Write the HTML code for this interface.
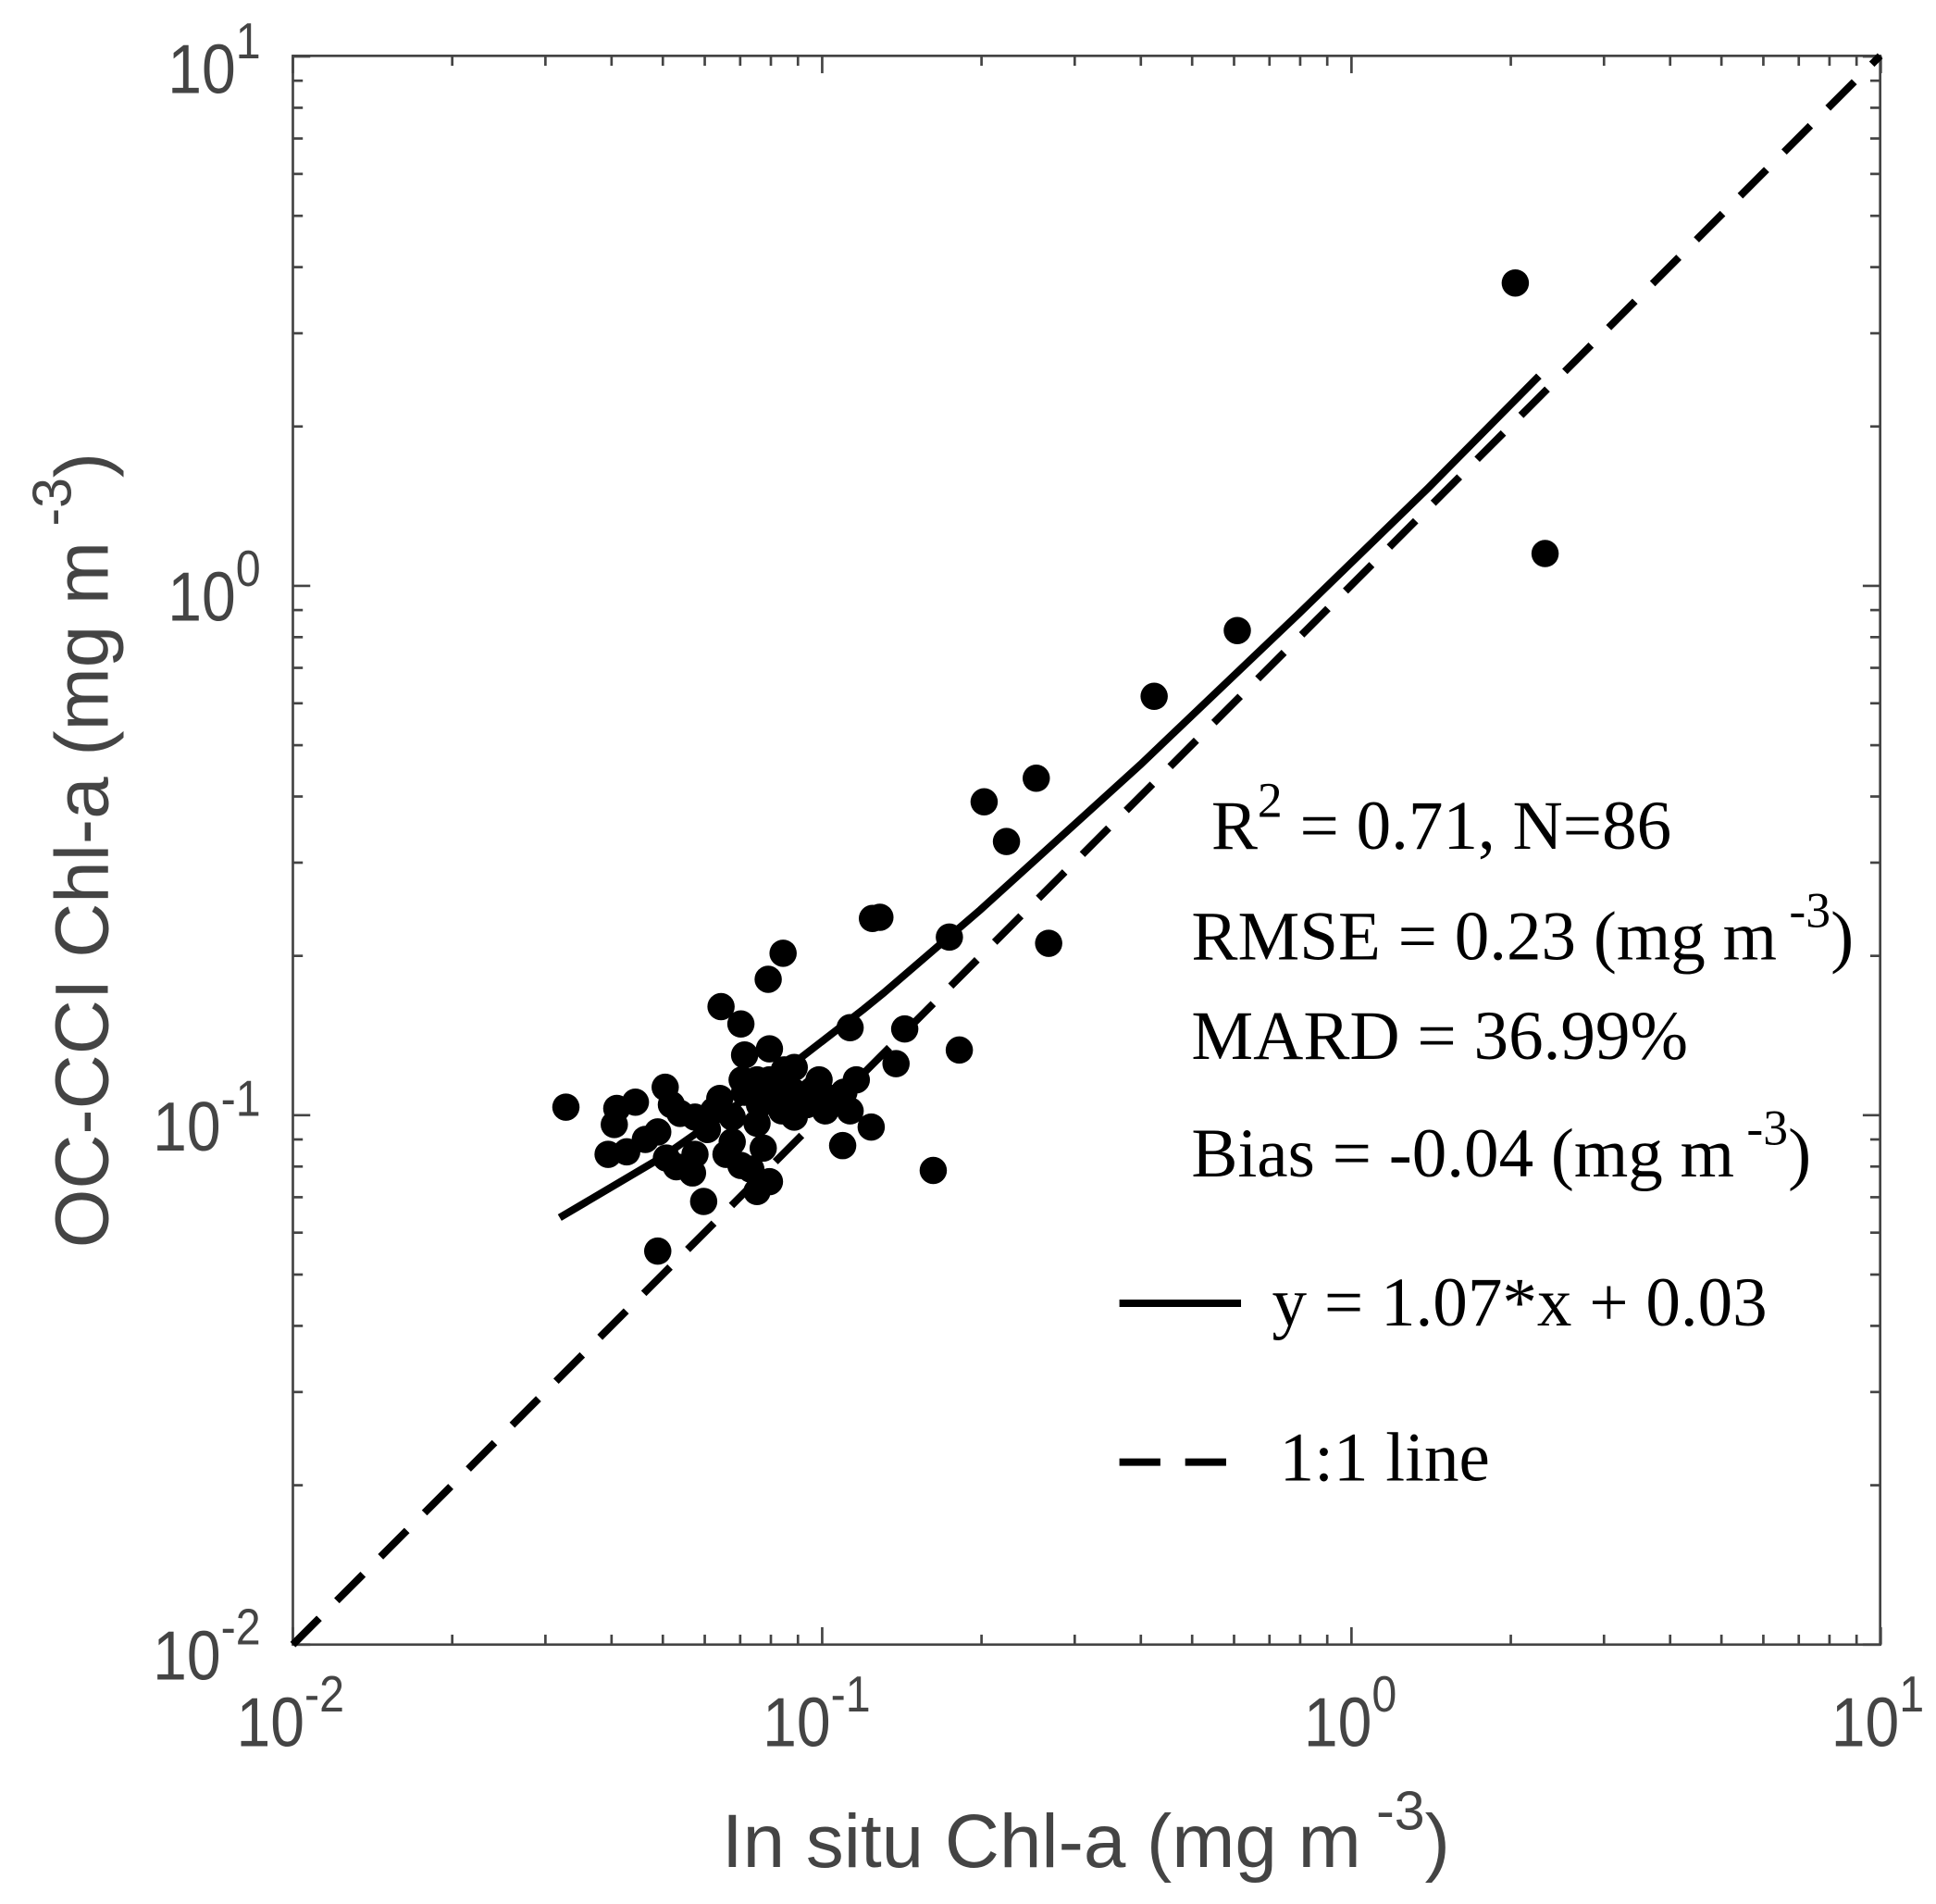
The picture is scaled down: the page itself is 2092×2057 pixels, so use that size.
<!DOCTYPE html>
<html><head><meta charset="utf-8"><style>
html,body{margin:0;padding:0;background:#fff;}
svg{display:block;}
</style></head><body>
<svg id="s" width="2092" height="2057" viewBox="0 0 1560 1534" preserveAspectRatio="none" xmlns="http://www.w3.org/2000/svg">
<rect x="0" y="0" width="1560" height="1534" fill="#fff"/>
<g id="ticks" stroke="#444" stroke-width="2"></g>
<rect x="236" y="45" width="1279" height="1280" fill="none" stroke="#444" stroke-width="2"/>
<line x1="236" y1="1325" x2="1515" y2="45" stroke="#000" stroke-width="6" stroke-dasharray="30,20"/>
<polyline fill="none" stroke="#000" stroke-width="6" points="451,981 534,932 621,871 696,813 712,800 790,733 919,616 1047,494 1151,393 1240,303"/>
<g id="pts" fill="#000"></g>
<g font-family="Liberation Sans, sans-serif" fill="#444" font-size="56">
<g transform="translate(210,0) scale(0.88,1)">
<text x="0" y="75" text-anchor="end">10<tspan dy="-28" font-size="41">1</tspan></text>
<text x="0" y="500" text-anchor="end">10<tspan dy="-28" font-size="41">0</tspan></text>
<text x="0" y="927" text-anchor="end">10<tspan dy="-28" font-size="41">-1</tspan></text>
<text x="0" y="1353" text-anchor="end">10<tspan dy="-28" font-size="41">-2</tspan></text>
</g>
<g transform="translate(234,1407) scale(0.88,1)"><text x="0" y="0" text-anchor="middle">10<tspan dy="-28" font-size="41">-2</tspan></text></g>
<g transform="translate(658,1407) scale(0.88,1)"><text x="0" y="0" text-anchor="middle">10<tspan dy="-28" font-size="41">-1</tspan></text></g>
<g transform="translate(1088,1407) scale(0.88,1)"><text x="0" y="0" text-anchor="middle">10<tspan dy="-28" font-size="41">0</tspan></text></g>
<g transform="translate(1513,1407) scale(0.88,1)"><text x="0" y="0" text-anchor="middle">10<tspan dy="-28" font-size="41">1</tspan></text></g>
<text x="875" y="1504" text-anchor="middle" font-size="61">In situ Chl-a (mg m<tspan dy="-30" font-size="44"> -3</tspan><tspan dy="30">)</tspan></text>
<text transform="translate(87,685) rotate(-90)" text-anchor="middle" font-size="61">OC-CCI Chl-a (mg m<tspan dy="-30" font-size="44"> -3</tspan><tspan dy="30">)</tspan></text>
</g>
<g font-family="Liberation Serif, serif" fill="#000" font-size="56">
<text x="976" y="684">R<tspan dy="-26" font-size="40">2</tspan><tspan dy="26"> = 0.71, N=86</tspan></text>
<text x="960" y="773">RMSE = 0.23 (mg m<tspan dy="-26" font-size="40"> -3</tspan><tspan dy="26">)</tspan></text>
<text x="960" y="853">MARD = 36.99%</text>
<text x="960" y="948">Bias = -0.04 (mg m<tspan dy="-26" font-size="40"> -3</tspan><tspan dy="26">)</tspan></text>
<text x="1025" y="1068">y = 1.07*x + 0.03</text>
<text x="1031" y="1193">1:1 line</text>
</g>
<line x1="902" y1="1050" x2="1000" y2="1050" stroke="#000" stroke-width="6"/>
<line x1="902" y1="1178" x2="990" y2="1178" stroke="#000" stroke-width="6" stroke-dasharray="33,20"/>
</svg>
<script>
(function(){
var NS="http://www.w3.org/2000/svg";
var t=document.getElementById('ticks');
function ln(a,b,c,d){var l=document.createElementNS(NS,'line');l.setAttribute('x1',a);l.setAttribute('y1',b);l.setAttribute('x2',c);l.setAttribute('y2',d);t.appendChild(l);}
var L=236,R=1515,T=45,B=1325,D=426.5;
for(var dec=0;dec<3;dec++){for(var k=1;k<=10;k++){
 if(k==1&&dec>0)continue;
 var off=Math.log10(k)*D; var len=(k==1||k==10)?14:8;
 var x=L+dec*D+off, y=B-dec*D-off;
 ln(x,B,x,B-len); ln(x,T,x,T+len);
 ln(L,y,L+len,y); ln(R,y,R-len,y);
}}
var p=[[1221,228],[1245,446],[997,508],[930,561],[835,627],[793,646],[811,678],[845,760],[765,755],[703,740],[709,739],[773,846],[752,943],[631,768],[619,789],[581,811],[597,825],[685,828],[729,829],[722,857],[456,892],[497,893],[512,888],[536,876],[495,906],[541,890],[548,897],[520,918],[530,912],[490,930],[505,928],[537,933],[558,945],[530,1008],[567,968],[597,939],[610,960],[620,952],[702,908],[679,923],[580,885],[600,880],[620,870],[640,860],[660,870],[680,880],[560,900],[570,910],[590,900],[610,905],[630,895],[650,890],[670,885],[600,850],[610,870],[620,845],[625,880],[640,880],[665,895],[590,920],[640,900],[615,925],[655,878],[575,895],[585,930],[605,942],[560,930],[545,940],[690,870],[685,895],[598,870],[632,862],[612,890]];
var g=document.getElementById('pts');
p.forEach(function(q){var c=document.createElementNS(NS,'circle');c.setAttribute('cx',q[0]);c.setAttribute('cy',q[1]);c.setAttribute('r',11);g.appendChild(c);});
})();
</script>
</body></html>
